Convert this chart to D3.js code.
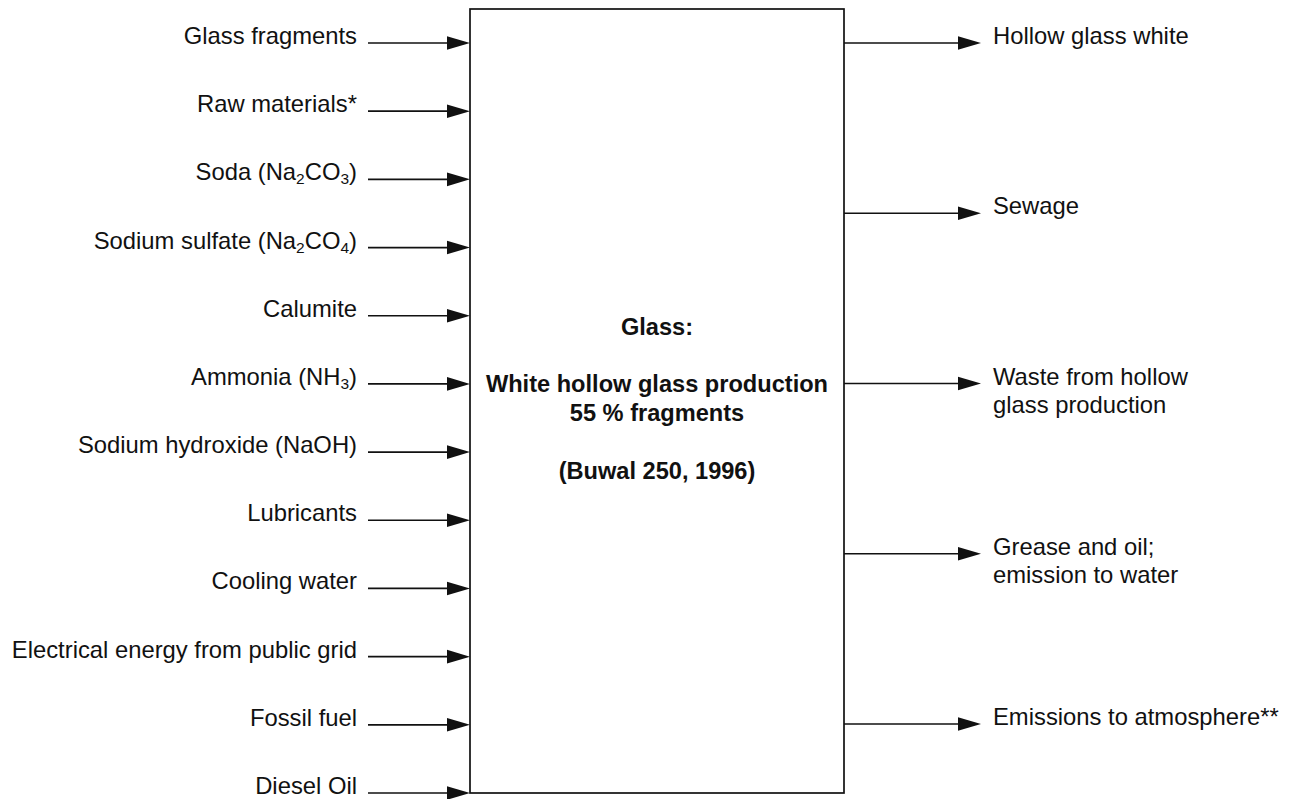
<!DOCTYPE html>
<html lang="en">
<head>
  <meta charset="UTF-8">
  <title>White hollow glass production</title>
  <style>
    html, body {
      margin: 0;
      background: #ffffff;
    }
    svg {
      display: block;
      font-family: "Liberation Sans", Arial, sans-serif;
    }
    .lbl {
      font-size: 23.8px;
      fill: #111;
    }
    .title {
      font-size: 23.6px;
      font-weight: bold;
      fill: #111;
    }
  </style>
</head>
<body>
  <svg id="chart" width="1290" height="799"></svg>

  <script src="https://cdnjs.cloudflare.com/ajax/libs/d3/7.8.5/d3.min.js"></script>
  <script>
    // "_3" marks a subscript digit
    const inputs = [
      'Glass fragments',
      'Raw materials*',
      'Soda (Na_2CO_3)',
      'Sodium sulfate (Na_2CO_4)',
      'Calumite',
      'Ammonia (NH_3)',
      'Sodium hydroxide (NaOH)',
      'Lubricants',
      'Cooling water',
      'Electrical energy from public grid',
      'Fossil fuel',
      'Diesel Oil'
    ];
    const outputs = [
      ['Hollow glass white'],
      ['Sewage'],
      ['Waste from hollow', 'glass production'],
      ['Grease and oil;', 'emission to water'],
      ['Emissions to atmosphere**']
    ];
    const processLines = [
      'Glass:',
      '',
      'White hollow glass production',
      '55 % fragments',
      '',
      '(Buwal 250, 1996)'
    ];

    const svg = d3.select('#chart');

    const box = { x0: 470, x1: 844, y0: 9, y1: 793 };
    const arrowHead = { len: 23, half: 6.8 };
    const lineHeight = 28.7;
    const subShift = 4;

    const yIn = d3.scalePoint()
      .domain(d3.range(inputs.length))
      .range([43, 793]);
    const yOut = d3.scalePoint()
      .domain(d3.range(outputs.length))
      .range([43, 724]);

    // process box
    svg.append('rect')
      .attr('x', box.x0)
      .attr('y', box.y0)
      .attr('width', box.x1 - box.x0)
      .attr('height', box.y1 - box.y0)
      .attr('fill', '#fff')
      .attr('stroke', '#111')
      .attr('stroke-width', 1.7);

    function arrow(g, x0, x1, y) {
      g.append('line')
        .attr('x1', x0).attr('x2', x1 - arrowHead.len + 2)
        .attr('y1', y).attr('y2', y)
        .attr('stroke', '#111')
        .attr('stroke-width', 1.7);
      g.append('path')
        .attr('d', d3.line()([
          [x1 - arrowHead.len, y - arrowHead.half],
          [x1, y],
          [x1 - arrowHead.len, y + arrowHead.half]
        ]) + 'Z')
        .attr('fill', '#111');
    }

    function writeLabel(text, str) {
      let shifted = false;
      str.split(/(_\d)/).filter(s => s.length).forEach(part => {
        if (part.startsWith('_')) {
          text.append('tspan')
            .attr('dy', shifted ? 0 : subShift)
            .attr('font-size', 15.5)
            .text(part.slice(1));
          shifted = true;
        } else {
          text.append('tspan')
            .attr('dy', shifted ? -subShift : 0)
            .text(part);
          shifted = false;
        }
      });
    }

    /**
     * Inputs
     */
    const gIn = svg.append('g');
    inputs.forEach((label, i) => {
      const y = yIn(i);
      arrow(gIn, 368, box.x0, y);
      const t = gIn.append('text')
        .attr('class', 'lbl')
        .attr('x', 357)
        .attr('y', y + 1)
        .attr('text-anchor', 'end');
      writeLabel(t, label);
    });

    /**
     * Outputs
     */
    const gOut = svg.append('g');
    outputs.forEach((lines, i) => {
      const y = yOut(i);
      arrow(gOut, box.x1, 981, y);
      const t = gOut.append('text')
        .attr('class', 'lbl')
        .attr('x', 993)
        .attr('y', y + 1);
      lines.forEach((l, j) => {
        t.append('tspan')
          .attr('x', 993)
          .attr('dy', j === 0 ? 0 : lineHeight)
          .text(l);
      });
    });

    // process description
    const title = svg.append('text')
      .attr('class', 'title')
      .attr('text-anchor', 'middle');
    processLines.forEach((l, j) => {
      title.append('tspan')
        .attr('x', (box.x0 + box.x1) / 2)
        .attr('y', 335 + j * lineHeight)
        .text(l || ' ');
    });
  </script>
</body>
</html>
